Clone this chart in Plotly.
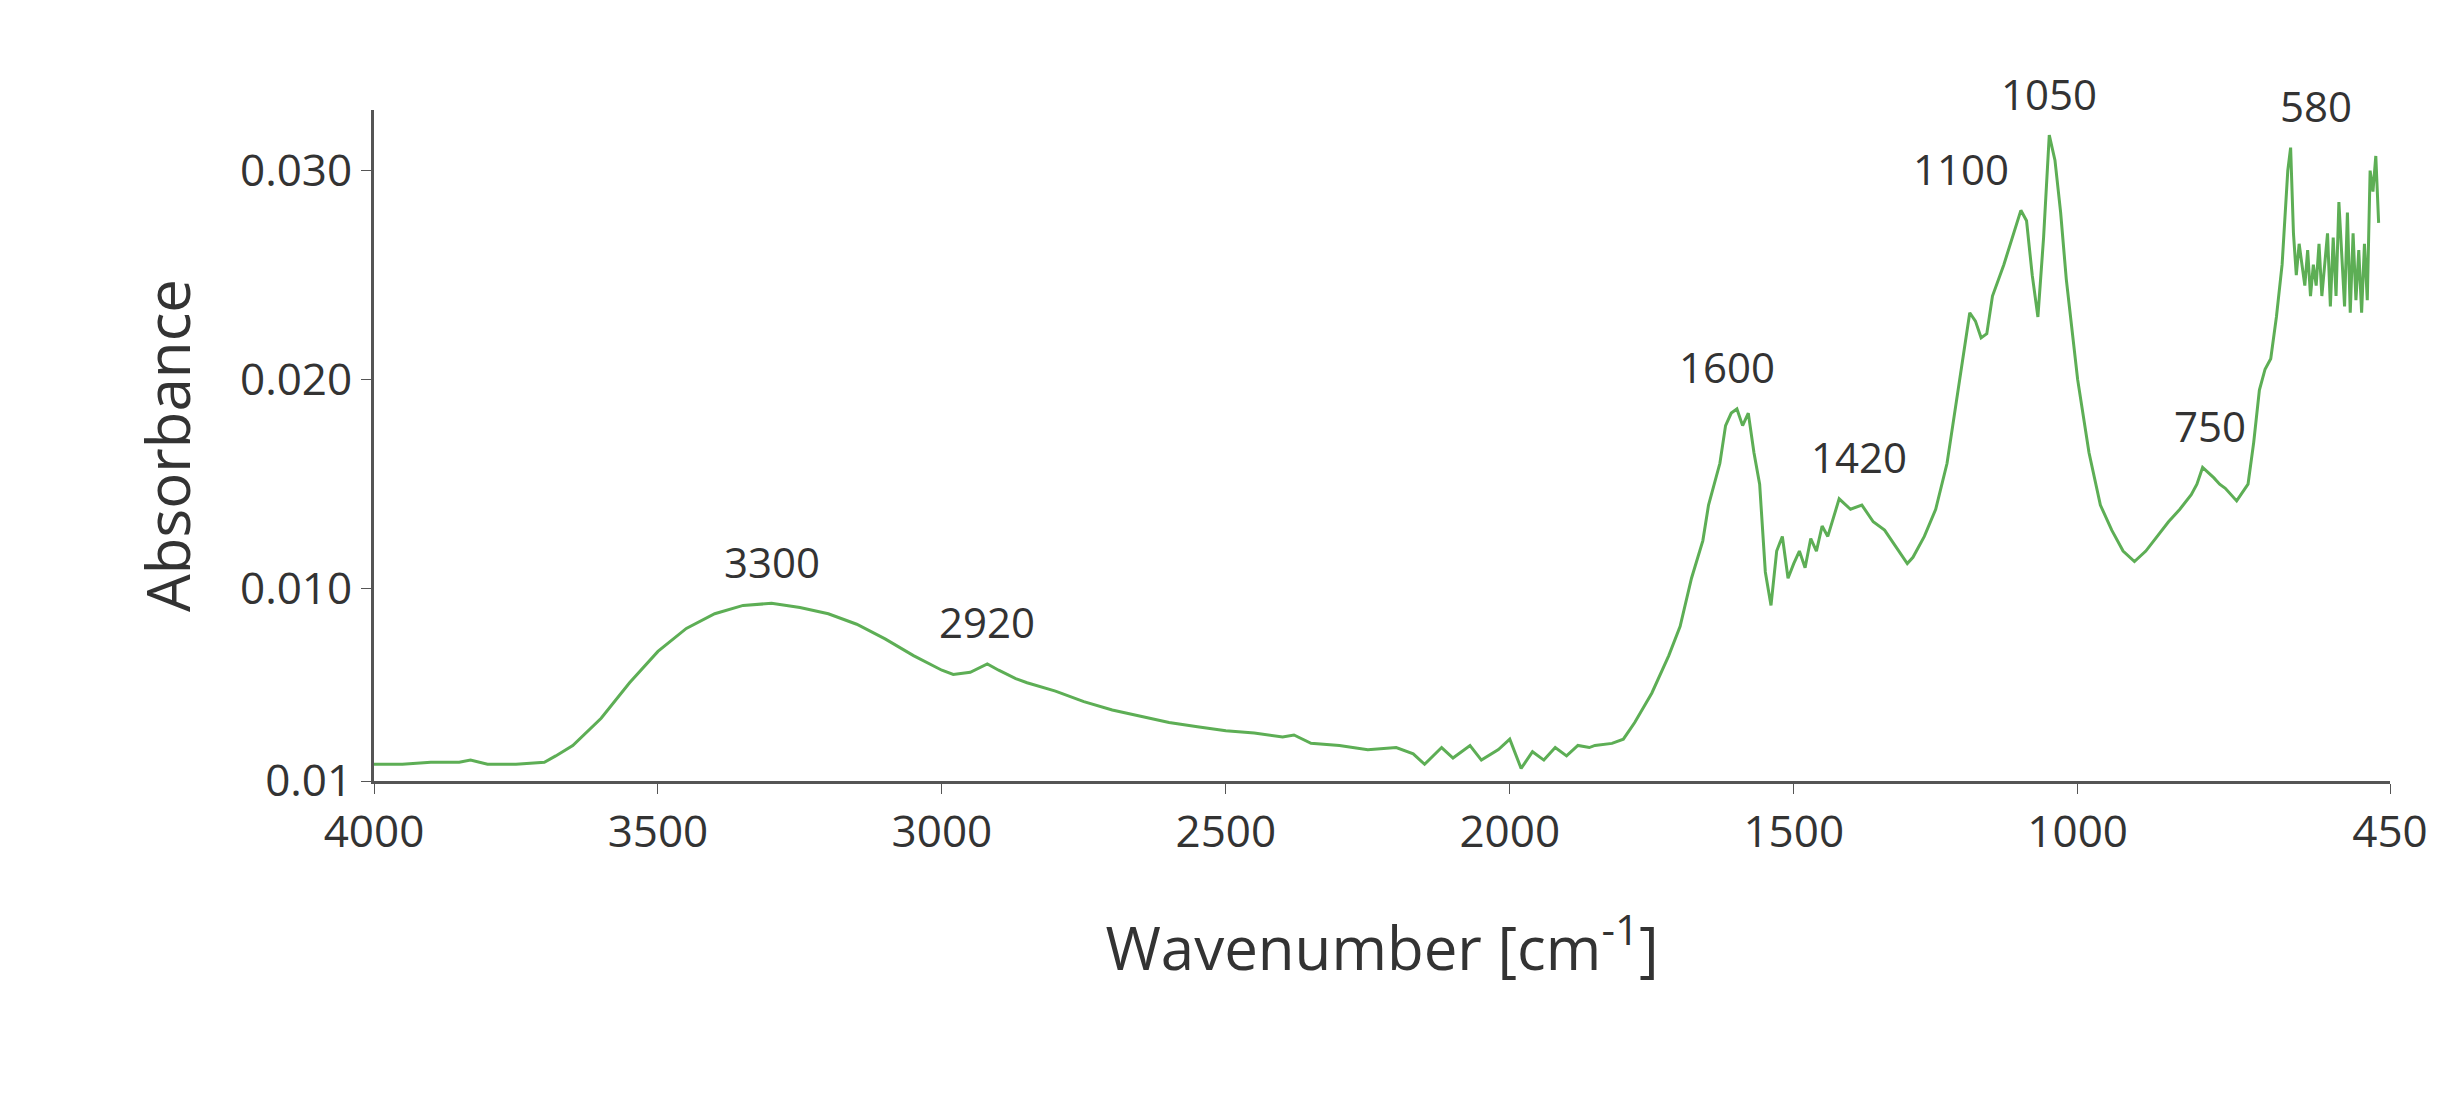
import plotly.graph_objects as go

# ==========================
# DATA
# ==========================
wavenumber = [4000, 3950, 3900, 3850, 3830, 3800, 3750, 3700, 3680, 3650, 3600, 3550,
              3500, 3450, 3400, 3350, 3300, 3250, 3200, 3150, 3100, 3050, 3000, 2980,
              2950, 2920, 2900, 2870, 2850, 2800, 2750, 2700, 2650, 2600, 2550, 2500,
              2450, 2400, 2380, 2350, 2300, 2250, 2200, 2170, 2150, 2120, 2100, 2070,
              2050, 2020, 2000, 1980, 1960, 1940, 1920, 1900, 1880, 1860, 1850, 1820,
              1800, 1780, 1750, 1720, 1700, 1680, 1660, 1650, 1630, 1620, 1610, 1600,
              1590, 1580, 1570, 1560, 1550, 1540, 1530, 1520, 1510, 1500, 1490, 1480,
              1470, 1460, 1450, 1440, 1420, 1400, 1380, 1360, 1340, 1320, 1300, 1290,
              1270, 1250, 1230, 1220, 1200, 1190, 1180, 1170, 1160, 1150, 1130, 1110,
              1100, 1090, 1080, 1070, 1060, 1050, 1040, 1030, 1020, 1000, 980, 960,
              940, 920, 900, 880, 860, 840, 820, 800, 790, 780, 760, 750, 740, 720,
              700, 690, 680, 670, 660, 650, 640, 630, 625, 620, 615, 610, 600, 595,
              590, 585, 580, 575, 570, 560, 555, 550, 545, 540, 530, 525, 520, 515,
              510, 505, 500, 495, 490, 485, 480, 475, 470, 465, 460, 455, 450]
absorbance = [0.0016, 0.0016, 0.0017, 0.0017, 0.0018, 0.0016, 0.0016, 0.0017, 0.0020, 0.0025, 0.0038, 0.0055,
              0.0070, 0.0081, 0.0088, 0.0092, 0.0093, 0.0091, 0.0088, 0.0083, 0.0076, 0.0068, 0.0061, 0.0059,
              0.0060, 0.0064, 0.0061, 0.0057, 0.0055, 0.0051, 0.0046, 0.0042, 0.0039, 0.0036, 0.0034, 0.0032,
              0.0031, 0.0029, 0.0030, 0.0026, 0.0025, 0.0023, 0.0024, 0.0021, 0.0016, 0.0024, 0.0019, 0.0025,
              0.0018, 0.0023, 0.0028, 0.0014, 0.0022, 0.0018, 0.0024, 0.0020, 0.0025, 0.0024, 0.0025, 0.0026,
              0.0028, 0.0036, 0.0050, 0.0068, 0.0082, 0.0105, 0.0123, 0.0140, 0.0160, 0.0178, 0.0184, 0.0186,
              0.0178, 0.0184, 0.0165, 0.0150, 0.0108, 0.0092, 0.0118, 0.0125, 0.0105, 0.0112, 0.0118, 0.0110,
              0.0124, 0.0118, 0.0130, 0.0125, 0.0143, 0.0138, 0.0140, 0.0132, 0.0128, 0.0120, 0.0112, 0.0115,
              0.0125, 0.0138, 0.0160, 0.0178, 0.0215, 0.0232, 0.0228, 0.0220, 0.0222, 0.0240, 0.0255, 0.0272,
              0.0281, 0.0276, 0.0250, 0.0230, 0.0268, 0.0317, 0.0305, 0.0280, 0.0248, 0.0200, 0.0165, 0.0140,
              0.0128, 0.0118, 0.0113, 0.0118, 0.0125, 0.0132, 0.0138, 0.0145, 0.0150, 0.0158, 0.0153, 0.0150,
              0.0148, 0.0142, 0.0150, 0.0170, 0.0195, 0.0205, 0.0210, 0.0230, 0.0255, 0.0300, 0.0311, 0.0270,
              0.0250, 0.0265, 0.0245, 0.0262, 0.0240, 0.0255, 0.0245, 0.0265, 0.0240, 0.0270, 0.0235, 0.0268,
              0.0240, 0.0285, 0.0235, 0.0280, 0.0232, 0.0270, 0.0238, 0.0262, 0.0232, 0.0265, 0.0238, 0.0300,
              0.0290, 0.0307, 0.0275]

peak_x = [3300, 2920, 1600, 1420, 1100, 1050, 750, 580]
peak_y = [0.0093, 0.0064, 0.0186, 0.0143, 0.0281, 0.0317, 0.0158, 0.0311]
peak_text = ["3300", "2920", "1600", "1420", "1100", "1050", "750", "580"]
peak_dx = [0, 0, -10, 20, -60, 0, -10, 0]

y_tickvals = [0.0008, 0.010, 0.020, 0.030]
y_ticktext = ["0.01", "0.010", "0.020", "0.030"]
x_tickvals = [4000, 3500, 3000, 2500, 2000, 1500, 1000, 450]

# ==========================
# FIGURE
# ==========================
fig = go.Figure()
fig.add_trace(go.Scatter(
    x=wavenumber, y=absorbance, mode="lines",
    line=dict(color="#5DAE55", width=3), showlegend=False
))

for px, py, pt, dx in zip(peak_x, peak_y, peak_text, peak_dx):
    fig.add_annotation(x=px, y=py, text=pt, showarrow=False,
                       xshift=dx, yshift=42, font=dict(size=42, color="#333333"))

fig.update_layout(
    width=2460, height=1097,
    paper_bgcolor="white", plot_bgcolor="white",
    font=dict(family="Open Sans", color="#333333"),
    margin=dict(l=366, r=78, t=102, b=324),
)
fig.update_xaxes(
    range=[4000, 450], tickvals=x_tickvals,
    showline=True, linecolor="#555555", linewidth=3,
    ticks="outside", ticklen=10, tickcolor="#555555",
    tickfont=dict(size=44), showgrid=False, zeroline=False,
    title=dict(text="Wavenumber [cm<sup>-1</sup>]", font=dict(size=60), standoff=70),
)
fig.update_yaxes(
    range=[0.0008, 0.0329], tickvals=y_tickvals, ticktext=y_ticktext,
    showline=True, linecolor="#555555", linewidth=3,
    ticks="outside", ticklen=10, tickcolor="#555555",
    tickfont=dict(size=44), showgrid=False, zeroline=False,
    title=dict(text="Absorbance", font=dict(size=60), standoff=30),
)

fig.write_html("out.html")
